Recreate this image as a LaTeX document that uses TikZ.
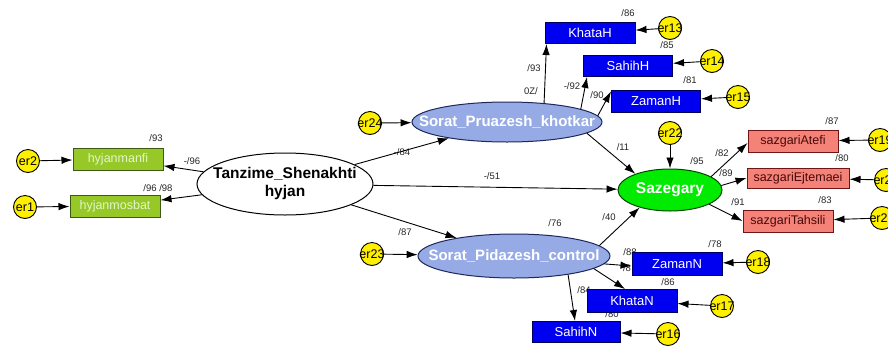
\documentclass[tikz,border=0pt]{standalone}
\usepackage{fontspec}
\setmainfont{Liberation Sans}
\usetikzlibrary{arrows.meta,shapes.geometric}
\definecolor{gfill}{RGB}{150,200,40}
\definecolor{gdraw}{RGB}{60,90,20}
\definecolor{gtext}{RGB}{228,245,200}
\definecolor{bfill}{RGB}{0,0,240}
\definecolor{bdraw}{RGB}{0,0,90}
\definecolor{sfill}{RGB}{245,130,120}
\definecolor{sdraw}{RGB}{110,20,20}
\definecolor{stext}{RGB}{70,10,10}
\definecolor{lfill}{RGB}{150,170,230}
\definecolor{ldraw}{RGB}{30,40,90}
\definecolor{zfill}{RGB}{0,235,0}
\definecolor{zdraw}{RGB}{0,70,0}
\definecolor{yfill}{RGB}{255,240,0}
\begin{document}
\begin{tikzpicture}[x=1pt,y=-1pt,
  errc/.style={circle,draw=black,line width=0.9pt,fill=yfill,minimum size=23pt,inner sep=0pt,font=\fontsize{12.5}{12.5}\selectfont},
  gbox/.style={rectangle,draw=gdraw,line width=1pt,fill=gfill,text=gtext,minimum width=90pt,minimum height=22pt,inner sep=0pt,font=\fontsize{12.5}{12.5}\selectfont},
  bbox/.style={rectangle,draw=bdraw,line width=1pt,fill=bfill,text=white,minimum width=90pt,minimum height=22pt,inner sep=0pt,font=\fontsize{13}{13}\selectfont},
  sbox/.style={rectangle,draw=sdraw,line width=1pt,fill=sfill,text=stext,minimum width=90pt,minimum height=22pt,inner sep=0pt,font=\fontsize{12.5}{12.5}\selectfont},
  lat/.style={ellipse,draw=ldraw,line width=1pt,fill=lfill,text=white,inner sep=0pt,font=\bfseries\fontsize{15}{15}\selectfont},
  conn/.style={line width=0.9pt,-{Latex[length=11pt,width=7.5pt]}},
  lab/.style={font=\fontsize{9.5}{10}\selectfont,inner sep=0pt,text=black!85}
]
\useasboundingbox (0,0) rectangle (888,346);
\fill[white] (0,0) rectangle (888,346);

% labels drawn first (some partially hidden behind boxes)
\node[lab] (l93a) at (156,138) {/93};
\node[lab] (l96a) at (192,161) {-/96};
\node[lab] (l9698) at (158,188) {/96 /98};
\node[lab] (l84a) at (402,152) {-/84};
\node[lab] (l51) at (492,176) {-/51};
\node[lab] (l87a) at (405,232) {/87};
\node[lab] (l93b) at (534,68) {/93};
\node[lab] (l70) at (531,91) {0Z/};
\node[lab] (l92) at (572,86) {-/92};
\node[lab] (l90a) at (597,95) {/90};
\node[lab] (l86a) at (628,13) {/86};
\node[lab] (l85) at (667,45) {/85};
\node[lab] (l81) at (690,80) {/81};
\node[lab] (l11) at (623,147) {/11};
\node[lab] (l95) at (697,161) {/95};
\node[lab] (l82) at (722,153) {/82};
\node[lab] (l89a) at (726,173) {/89};
\node[lab] (l91) at (738,202) {/91};
\node[lab] (l87b) at (832,121) {/87};
\node[lab] (l80a) at (842,158) {/80};
\node[lab] (l83) at (825,200) {/83};
\node[lab] (l40) at (609,217) {/40};
\node[lab] (l76) at (555,223) {/76};
\node[lab] (l78) at (715,244) {/78};
\node[lab] (l88) at (630,252) {/88};
\node[lab] (l8) at (627,268) {/8};
\node[lab] (l86b) at (668,282) {/86};
\node[lab] (l84b) at (584,290) {/84};
\node[lab] (l80b) at (612,314) {/80};

% nodes
\node[errc] (e2) at (28,161) {\makebox[0pt]{er2}};
\node[errc] (e1) at (25,207) {\makebox[0pt]{er1}};
\node[gbox] (m1) at (118,159) {hyjanmanfi};
\node[gbox] (m2) at (115,206) {hyjanmosbat};
\node[ellipse,draw=black,line width=1pt,fill=white,minimum width=176pt,minimum height=62pt,inner sep=0pt,font=\bfseries\fontsize{15.5}{18}\selectfont] (T) at (285,184) {\makebox[0pt]{\begin{tabular}{@{}c@{}}Tanzime\_Shenakhti\\hyjan\end{tabular}}};
\node[lat,minimum width=190pt,minimum height=40pt] (K) at (507,122) {\makebox[0pt]{Sorat\_Pruazesh\_khotkar}};
\node[lat,minimum width=192pt,minimum height=44pt] (C) at (514,256) {\makebox[0pt]{Sorat\_Pidazesh\_control}};
\node[errc] (e24) at (370,123) {\makebox[0pt]{er24}};
\node[errc] (e23) at (372,254) {\makebox[0pt]{er23}};
\node[bbox,minimum height=21pt] (KH) at (590,33) {KhataH};
\node[bbox,minimum width=89pt,minimum height=21pt] (SH) at (628,66) {SahihH};
\node[bbox,minimum width=89pt] (ZH) at (656,101) {ZamanH};
\node[errc] (e13) at (670,28) {\makebox[0pt]{er13}};
\node[errc] (e14) at (712,61) {\makebox[0pt]{er14}};
\node[errc] (e15) at (738,97) {\makebox[0pt]{er15}};
\node[ellipse,draw=zdraw,line width=1pt,fill=zfill,text=white,minimum width=104pt,minimum height=42pt,inner sep=0pt,font=\bfseries\fontsize{15.5}{15.5}\selectfont] (S) at (670,190) {\makebox[0pt]{Sazegary}};
\node[errc] (e22) at (670,133) {\makebox[0pt]{er22}};
\node[sbox] (sA) at (793,141) {sazgariAtefi};
\node[sbox,minimum width=102pt,minimum height=20pt] (sE) at (798,178) {sazgariEjtemaei};
\node[sbox] (sT) at (788,221) {sazgariTahsili};
\node[errc] (e19) at (880,140) {\makebox[0pt]{er19}};
\node[errc] (e20) at (886,180) {\makebox[0pt]{er20}};
\node[errc] (e21) at (882,218) {\makebox[0pt]{er21}};
\node[bbox,minimum height=23pt] (ZN) at (677,264) {ZamanN};
\node[bbox,minimum height=23pt] (KN) at (632,301) {KhataN};
\node[bbox,minimum width=88pt,minimum height=21pt] (SN) at (576,332) {SahihN};
\node[errc] (e18) at (758,262) {\makebox[0pt]{er18}};
\node[errc] (e17) at (722,306) {\makebox[0pt]{er17}};
\node[errc] (e16) at (668,334) {\makebox[0pt]{er16}};

% connectors
\draw[conn] (e2) -- (m1);
\draw[conn] (e1) -- (m2);
\draw[conn] (T) -- (m1);
\draw[conn] (T) -- (m2);
\draw[conn] (e24) -- (K);
\draw[conn] (e23) -- (C);
\draw[conn] (T) -- (K);
\draw[conn] (T) -- (S);
\draw[conn] (T) -- (C);
\draw[conn] (K.27) -- ([xshift=2pt]KH.south west);
\draw[conn] (K.10) -- ([xshift=4pt]SH.south west);
\draw[conn] (K.4) -- ([yshift=-2pt]ZH.north west);
\draw[conn] (K.-8) -- (S.155);
\draw[conn] (e13) -- (KH);
\draw[conn] (e14) -- (SH);
\draw[conn] (e15) -- (ZH);
\draw[conn] (e22) -- (S);
\draw[conn] (C.7) -- (S.210);
\draw[conn] (C.-5) -- ([yshift=-2pt]ZN.west);
\draw[conn] (C.-9) -- ([xshift=-7pt]KN.north);
\draw[conn] (C.-19) -- ([xshift=-1pt]SN.north);
\draw[conn] (S.18) -- ([yshift=-2pt]sA.west);
\draw[conn] (S.5) -- (sE.west);
\draw[conn] (S.-20) -- (sT.west);
\draw[conn] (e19) -- (sA);
\draw[conn] (e20) -- (sE);
\draw[conn] (e21) -- (sT);
\draw[conn] (e18) -- (ZN);
\draw[conn] (e17) -- (KN);
\draw[conn] (e16) -- (SN);
\end{tikzpicture}
\end{document}
